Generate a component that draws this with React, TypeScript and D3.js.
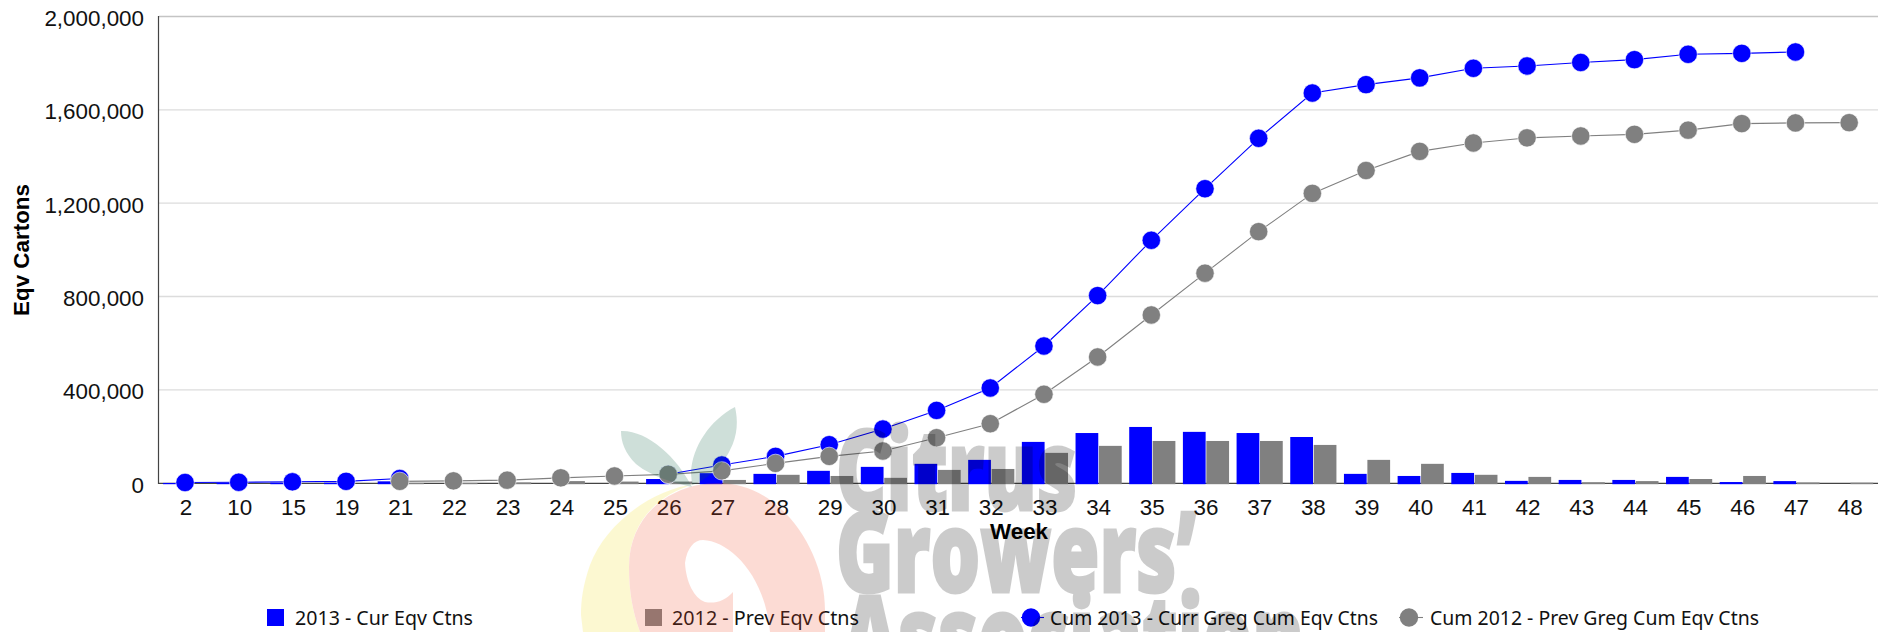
import React from 'react';
import * as d3 from 'd3';

const weeks = ['2', '10', '15', '19', '21', '22', '23', '24', '25', '26', '27', '28', '29', '30', '31', '32', '33', '34', '35', '36', '37', '38', '39', '40', '41', '42', '43', '44', '45', '46', '47', '48'];

const cur2013: (number | null)[] = [1000, 1000, 2000, 2000, 8000, null, null, null, null, 18000, 43000, 40000, 53000, 70000, 83000, 100000, 177000, 215000, 241000, 220000, 215000, 198000, 40000, 31000, 44000, 10000, 14000, 14000, 27000, 5000, 9000, null];
const prev2012: (number | null)[] = [null, null, null, null, 1000, 1000, 3000, 9000, 7000, 7000, 14000, 36000, 31000, 23000, 57000, 61000, 130000, 160000, 181000, 181000, 181000, 164000, 100000, 83000, 36000, 27000, 4000, 9000, 18000, 31000, 3000, 2000];
const cum2013: (number | null)[] = [3000, 4000, 6000, 8000, 20000, null, null, null, null, 38000, 78000, 115000, 165000, 232000, 312000, 408000, 588000, 804000, 1041000, 1262000, 1478000, 1672000, 1708000, 1737000, 1778000, 1788000, 1803000, 1815000, 1838000, 1842000, 1848000, null];
const cum2012: (number | null)[] = [null, null, null, null, 8000, 10000, 13000, 23000, 31000, 38000, 53000, 85000, 115000, 138000, 195000, 255000, 381000, 541000, 721000, 900000, 1078000, 1242000, 1340000, 1422000, 1458000, 1480000, 1488000, 1495000, 1513000, 1541000, 1544000, 1545000];
const yTicks = [0, 400000, 800000, 1200000, 1600000, 2000000];

const barSeries = [
  { name: '2013 - Cur Eqv Ctns', values: cur2013, color: '#0000ff' },
  { name: '2012 - Prev Eqv Ctns', values: prev2012, color: '#808080' },
];
const lineSeries = [
  { name: 'Cum 2013 - Curr Greg Cum Eqv Ctns', values: cum2013, color: '#0000ff' },
  { name: 'Cum 2012 - Prev Greg Cum Eqv Ctns', values: cum2012, color: '#808080' },
];

const width = 1885;
const height = 632;
const sans = '"Liberation Sans", Arial, sans-serif';
const legendFont = '"Noto Sans", sans-serif';

const x = d3.scaleBand<string>().domain(weeks).range([159.2, 1877]).paddingInner(0.14).paddingOuter(0.07);
const inner = d3.scaleBand<number>().domain([0, 1]).range([0, x.bandwidth()]).paddingInner(0.03);
const y = d3.scaleLinear().domain([0, 2000000]).range([483.2, 16.5]);
const fmt = d3.format(',');
const center = (w: string) => (x(w) as number) + x.bandwidth() / 2;
const pointX = (i: number) => center(weeks[i]) - 1;

const line = d3.line<number | null>()
  .defined(d => d !== null)
  .x((_, i) => pointX(i))
  .y(d => y(d as number));

const App = () => (
  <svg width={width} height={height} style={{ position: 'absolute', left: 0, top: 0, background: '#fff' }}>
    {yTicks.map(t => (
      <g key={t}>
        {t > 0 && <line x1={159} x2={1878} y1={y(t)} y2={y(t)} stroke={t === 2000000 ? '#c4c4c4' : '#dcdcdc'} strokeWidth={1.3} />}
        <text x={144} y={y(t) + 9.6} textAnchor="end" fontFamily={sans} fontSize={22.4} fill="#111">{fmt(t)}</text>
      </g>
    ))}
    <line x1={158.5} x2={158.5} y1={16} y2={484} stroke="#444" strokeWidth={1.2} />
    <line x1={158} x2={1878} y1={483.4} y2={483.4} stroke="#444" strokeWidth={1.4} />

    {weeks.map(w => (
      <text key={w} x={center(w)} y={515} textAnchor="middle" fontFamily={sans} fontSize={22.4} fill="#111">{w}</text>
    ))}
    <text x={1019} y={539} textAnchor="middle" fontFamily={sans} fontSize={22.4} fontWeight="bold">Week</text>
    <text transform="translate(28.5,250) rotate(-90)" textAnchor="middle" fontFamily={sans} fontSize={22.4} fontWeight="bold">Eqv Cartons</text>

    {barSeries.map((s, k) => (
      <g key={s.name} fill={s.color}>
        {s.values.map((v, i) => v === null ? null : (
          <rect key={i} x={(x(weeks[i]) as number) + (inner(k) as number)} y={y(v)} width={inner.bandwidth()} height={484.2 - y(v)} />
        ))}
      </g>
    ))}

    {lineSeries.map(s => (
      <g key={s.name}>
        <path d={line(s.values) as string} fill="none" stroke={s.color} strokeWidth={1.1} />
        {s.values.map((v, i) => v === null ? null : (
          <circle key={i} cx={pointX(i)} cy={y(v)} r={9.2} fill={s.color} stroke="#fff" strokeWidth={0.6} />
        ))}
      </g>
    ))}

    {/* legend */}
    <g fontFamily={legendFont} fontSize={19.5} fill="#111">
      <rect x={267} y={609} width={17} height={17} fill={barSeries[0].color} />
      <text x={295} y={625} textLength={178} lengthAdjust="spacingAndGlyphs">{barSeries[0].name}</text>
      <rect x={645} y={609} width={17} height={17} fill={barSeries[1].color} />
      <text x={672} y={625} textLength={187} lengthAdjust="spacingAndGlyphs">{barSeries[1].name}</text>
      <line x1={1021} x2={1044} y1={617.5} y2={617.5} stroke={lineSeries[0].color} strokeWidth={1.1} />
      <circle cx={1031} cy={617.5} r={9.2} fill={lineSeries[0].color} />
      <text x={1050} y={625} textLength={328} lengthAdjust="spacingAndGlyphs">{lineSeries[0].name}</text>
      <line x1={1399} x2={1423} y1={617.5} y2={617.5} stroke={lineSeries[1].color} strokeWidth={1.1} />
      <circle cx={1409} cy={617.5} r={9.2} fill={lineSeries[1].color} />
      <text x={1430} y={625} textLength={329} lengthAdjust="spacingAndGlyphs">{lineSeries[1].name}</text>
    </g>

    {/* watermark logo sits over the chart */}
    <g opacity={0.2} pointerEvents="none">
      <path d="M695 484 C650 490 605 525 590 565 C583 585 581 600 581 615 L583 632 L640 632 C632 610 629 590 629 567 C629 525 655 495 695 484 Z" fill="rgb(245,225,30)" />
      <path fillRule="evenodd" fill="rgb(245,80,45)" d="M640 632 C632 610 629 590 629 567 C629 515 670 484 717 483 C780 482 825 550 825 610 L825 632 Z M685 563 C687 548 694 540 703 540 C730 541 765 575 770 632 L733 632 L733 592 C725 601 715 604 705 602 C694 598 686 582 685 563 Z" />
      <path fill="rgb(15,100,70)" d="M621 431 C647 430 677 457 692 487 C680 484 653 478 636 464 C625 453 621 442 621 431 Z" />
      <path fill="rgb(15,100,70)" d="M735 407 C710 420 692 447 691 473 L692 485 C705 481 722 467 730 450 C738 435 738 420 735 407 Z" />
      <g fontFamily='"Open Sans", sans-serif' fontWeight="800" fontSize={112} fill="#000" stroke="#000" strokeWidth={3}>
        <text x={836} y={510} textLength={241} lengthAdjust="spacingAndGlyphs">Citrus</text>
        <text x={836} y={592} textLength={360} lengthAdjust="spacingAndGlyphs">Growers’</text>
        <text x={842} y={676} textLength={462} lengthAdjust="spacingAndGlyphs">Association</text>
      </g>
    </g>
  </svg>
);

export default App;
